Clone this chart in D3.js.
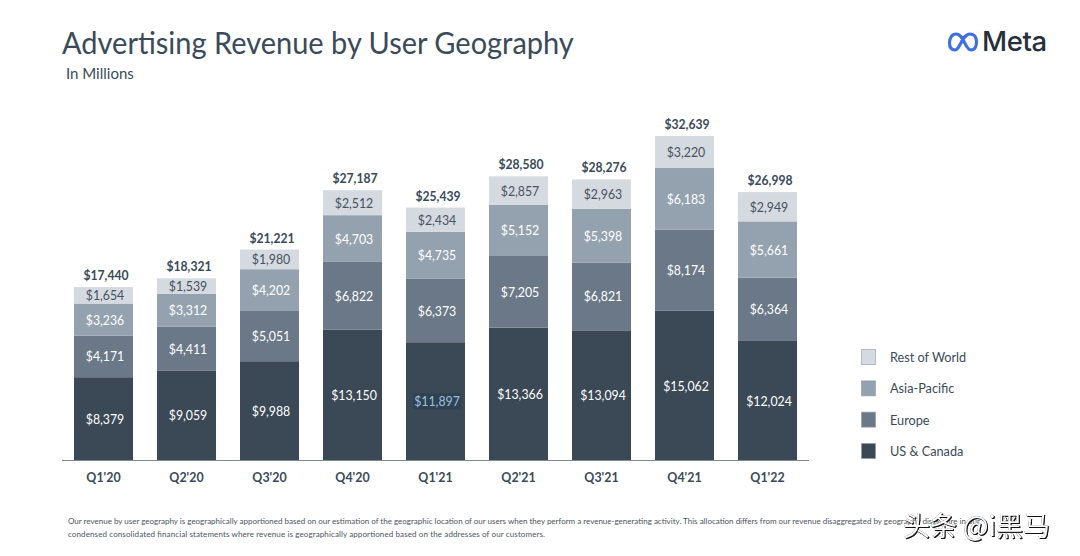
<!DOCTYPE html>
<html>
<head>
<meta charset="utf-8">
<title>Advertising Revenue by User Geography</title>
<script src="https://cdnjs.cloudflare.com/ajax/libs/d3/7.8.5/d3.min.js"></script>
<style>
  html, body { margin: 0; padding: 0; background: #fff; }
  svg { display: block; font-family: Lato, "Open Sans", sans-serif; }
</style>
</head>
<body>
<div id="chart"></div>
<script>
// Values (USD millions)
var quarters = ["Q1'20", "Q2'20", "Q3'20", "Q4'20", "Q1'21", "Q2'21", "Q3'21", "Q4'21", "Q1'22"];
var usCanada = [8379, 9059, 9988, 13150, 11897, 13366, 13094, 15062, 12024];
var europe = [4171, 4411, 5051, 6822, 6373, 7205, 6821, 8174, 6364];
var asiaPacific = [3236, 3312, 4202, 4703, 4735, 5152, 5398, 6183, 5661];
var restOfWorld = [1654, 1539, 1980, 2512, 2434, 2857, 2963, 3220, 2949];
var totals = [17440, 18321, 21221, 27187, 25439, 28580, 28276, 32639, 26998];
var seriesNames = ['US & Canada', 'Europe', 'Asia-Pacific', 'Rest of World'];
var seriesColors = ['#3b4855', '#6a7888', '#94a2af', '#d5d9e0'];
var labelColors = ['#ffffff', '#ffffff', '#ffffff', '#46525e'];
var legendOrder = ['Rest of World', 'Asia-Pacific', 'Europe', 'US & Canada'];

var footnote = [
  'Our revenue by user geography is geographically apportioned based on our estimation of the geographic location of our users when they perform a revenue-generating activity. This allocation differs from our revenue disaggregated by geography disclosure in our',
  'condensed consolidated financial statements where revenue is geographically apportioned based on the addresses of our customers.'
];

var textDark = '#3a4a5a';
var width = 1080, height = 556;

var svg = d3.select('#chart').append('svg')
  .attr('width', width)
  .attr('height', height)
  .attr('viewBox', [0, 0, width, height]);

// Scales
var x = d3.scaleBand().domain(quarters).range([74, 797]).paddingInner(0.289).paddingOuter(0);
var y = d3.scaleLinear().domain([0, 32639]).range([460.5, 136]);
var money = function (v) { return '$' + d3.format(',')(v); };

// Lato runs wider than the slide's font, so squeeze glyphs horizontally
function squeeze(sel, factor) {
  sel.each(function () {
    d3.select(this)
      .attr('textLength', this.getComputedTextLength() * factor)
      .attr('lengthAdjust', 'spacingAndGlyphs');
  });
}

// Header
svg.append('text').attr('x', 62).attr('y', 53.5)
  .attr('fill', textDark).attr('font-size', 31.5)
  .text('Advertising Revenue by User Geography')
  .call(squeeze, 0.92);
svg.append('text').attr('x', 66).attr('y', 79)
  .attr('fill', textDark).attr('font-size', 15)
  .text('In Millions');

// Meta logo: infinity mark plus wordmark
var logo = svg.append('g');
logo.append('path')
  .attr('d', 'M956,34 C964,34 965,50 971,50 C975,50 976.5,46 976.5,42 C976.5,37 974,34 970,34 C962,34 960,50 955,50 C951,50 949.5,47 949.5,43 C949.5,38 952,34 956,34 Z')
  .attr('fill', 'none').attr('stroke', '#3f6fe0').attr('stroke-width', 3.2);
logo.append('text').attr('x', 982).attr('y', 50.5)
  .attr('fill', '#25303b').attr('font-family', 'Inter, sans-serif')
  .attr('font-size', 27.5).attr('font-weight', 500).attr('letter-spacing', -0.4)
  .text('Meta');

// Stacked bars
var rows = quarters.map(function (q, i) {
  return { quarter: q, us: usCanada[i], eu: europe[i], ap: asiaPacific[i], row: restOfWorld[i], total: totals[i] };
});
var stack = d3.stack().keys(['us', 'eu', 'ap', 'row'])(rows);

var layers = svg.append('g').selectAll('g')
  .data(stack)
  .join('g')
  .attr('fill', function (d, i) { return seriesColors[i]; });

layers.selectAll('rect')
  .data(function (d) { return d; })
  .join('rect')
  .attr('x', function (d) { return x(d.data.quarter); })
  .attr('width', x.bandwidth())
  .attr('y', function (d) { return y(d[1]); })
  .attr('height', function (d) { return y(d[0]) - y(d[1]); });

// Segment labels
stack.forEach(function (layer, i) {
  layer.forEach(function (d) {
    var value = d[1] - d[0];
    var cx = x(d.data.quarter) + x.bandwidth() / 2 + 1.5;
    var cy = (y(d[0]) + y(d[1])) / 2;
    // Q1'21 US & Canada label is highlighted on the original slide
    var marked = value === 11897;
    if (marked) {
      svg.append('rect').attr('x', cx - 24).attr('y', cy - 8).attr('width', 48).attr('height', 16)
        .attr('fill', '#2f4254');
    }
    svg.append('text')
      .attr('x', cx).attr('y', cy + 5)
      .attr('text-anchor', 'middle')
      .attr('font-size', 14)
      .attr('fill', marked ? '#9fc0da' : labelColors[i])
      .text(money(value))
      .call(squeeze, 0.88);
  });
});

// Totals above the bars
svg.append('g').selectAll('text')
  .data(rows)
  .join('text')
  .attr('x', function (d) { return x(d.quarter) + x.bandwidth() / 2 + 2.5; })
  .attr('y', function (d) { return y(d.total) - 7; })
  .attr('text-anchor', 'middle')
  .attr('font-size', 13.5)
  .attr('font-weight', 700)
  .attr('fill', textDark)
  .text(function (d) { return money(d.total); })
  .call(squeeze, 0.9);

// X axis
var xAxis = svg.append('g')
  .attr('transform', 'translate(0,460.5)')
  .call(d3.axisBottom(x).tickSize(0).tickPadding(12));
xAxis.select('.domain').remove();
xAxis.selectAll('text')
  .attr('font-family', 'Lato, sans-serif')
  .attr('font-size', 13.5)
  .attr('font-weight', 700)
  .attr('fill', textDark)
  .call(squeeze, 0.92);
svg.append('line')
  .attr('x1', 62).attr('x2', 809)
  .attr('y1', 460.5).attr('y2', 460.5)
  .attr('stroke', '#7d8995').attr('stroke-width', 1);

// Legend
var legendY = d3.scalePoint().domain(legendOrder).range([357, 451]);
var legend = svg.append('g').selectAll('g')
  .data(legendOrder)
  .join('g')
  .attr('transform', function (d) { return 'translate(861,' + legendY(d) + ')'; });
legend.append('rect')
  .attr('x', 0.5).attr('y', -7.5).attr('width', 14).attr('height', 15)
  .attr('fill', function (d) { return seriesColors[seriesNames.indexOf(d)]; })
  .attr('stroke', '#8d99a5').attr('stroke-opacity', 0.6);
legend.append('text')
  .attr('x', 29).attr('y', 5)
  .attr('font-size', 13.5)
  .attr('fill', textDark)
  .text(function (d) { return d; })
  .call(squeeze, 0.94);

// Footnote
var footLengths = [null, 477];
svg.append('g').selectAll('text')
  .data(footnote)
  .join('text')
  .attr('x', 68)
  .attr('y', function (d, i) { return 523.5 + i * 13; })
  .attr('font-size', 8)
  .attr('fill', '#4a5560')
  .text(function (d) { return d; })
  .each(function (d, i) {
    if (footLengths[i]) d3.select(this).attr('textLength', footLengths[i]);
  });

// Watermark sits over the footnote
svg.append('text')
  .attr('x', 903).attr('y', 536)
  .attr('font-family', '"Noto Sans CJK SC", sans-serif')
  .attr('font-size', 27)
  .attr('fill', '#ffffff')
  .style('filter', 'drop-shadow(1px 1px 0 #111) drop-shadow(0 0 0.5px #333)')
  .text('头条 @i黑马');
</script>
</body>
</html>
